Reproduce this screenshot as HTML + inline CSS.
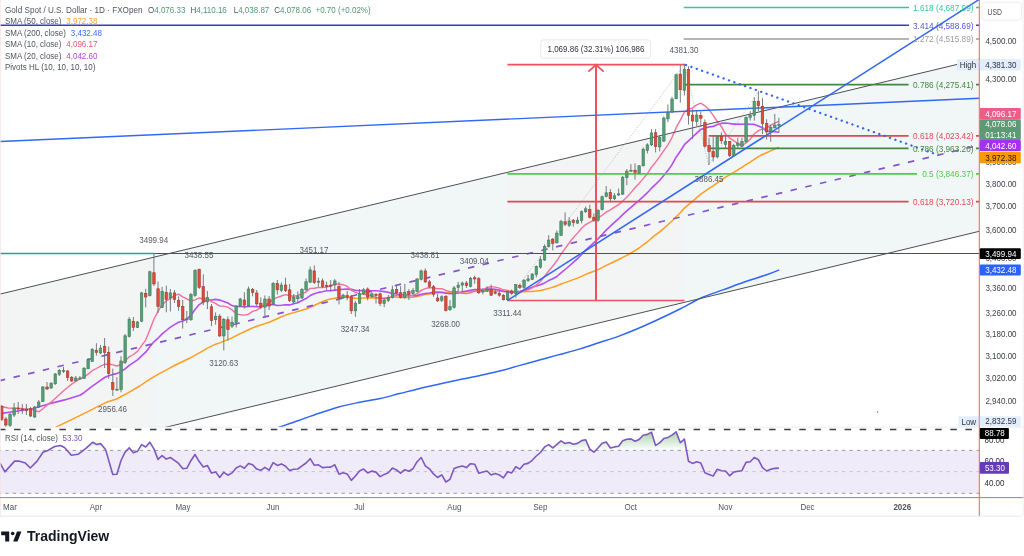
<!DOCTYPE html>
<html><head><meta charset="utf-8"><title>Gold Spot / U.S. Dollar chart</title>
<style>html,body{margin:0;padding:0;background:#fff;}body{width:1024px;height:556px;position:relative;overflow:hidden;}</style>
</head><body>
<svg width="1024" height="556" viewBox="0 0 1024 556" style="position:absolute;left:0;top:0;will-change:transform">
<defs><clipPath id="mp"><rect x="0" y="0" width="979.3" height="427"/></clipPath>
<clipPath id="rp"><rect x="0" y="427.5" width="979.3" height="69.6"/></clipPath>
<linearGradient id="gob" gradientUnits="userSpaceOnUse" x1="0" y1="418" x2="0" y2="450.4"><stop offset="0" stop-color="#43a047" stop-opacity="0.8"/><stop offset="1" stop-color="#43a047" stop-opacity="0"/></linearGradient>
<clipPath id="obc"><rect x="0" y="400" width="979.3" height="50.4"/></clipPath></defs>
<g clip-path="url(#mp)">
<polygon points="0.0,294.1 979.3,59.1 979.3,231.3 0.0,467.2" fill="#f1f6f7"/>
<polygon points="0.0,294.1 154.3,257.1 154.3,430.0 0.0,467.2" fill="#f3f5f5"/>
<polygon points="507.4,172.3 684.5,129.8 684.5,302.3 507.4,345.0" fill="#f3f4f4"/>
<polygon points="154.3,253.5 169.2,253.5 154.3,257.1" fill="#f1f6f7"/>
<path d="M275.0,429.0 C275.8,428.7 275.9,428.5 280.0,427.0 C284.1,425.5 293.0,422.5 299.5,420.2 C306.0,417.9 312.5,415.5 319.0,413.3 C325.5,411.1 332.1,408.8 338.6,407.0 C345.1,405.2 351.2,404.0 358.1,402.6 C365.0,401.2 373.1,400.1 380.0,398.6 C386.9,397.1 393.0,395.2 399.5,393.6 C406.0,392.0 412.5,390.2 419.0,388.7 C425.5,387.1 432.1,385.8 438.6,384.3 C445.1,382.8 451.2,381.4 458.1,379.9 C465.0,378.4 473.1,377.0 480.0,375.5 C486.9,374.0 493.0,372.6 499.5,371.0 C506.0,369.4 512.5,367.4 519.0,365.6 C525.5,363.8 532.1,362.1 538.6,360.3 C545.1,358.5 551.2,356.8 558.1,354.9 C565.0,353.0 573.1,351.0 580.0,348.9 C586.9,346.8 593.0,344.6 599.5,342.5 C606.0,340.4 612.5,338.5 619.0,336.1 C625.5,333.7 632.1,331.1 638.6,328.3 C645.1,325.5 651.2,322.7 658.1,319.5 C665.0,316.3 672.8,312.6 680.0,309.0 C687.2,305.4 694.3,301.0 701.5,297.8 C708.7,294.6 715.9,292.5 723.0,289.9 C730.1,287.3 737.2,284.5 744.4,282.0 C751.5,279.5 760.1,277.0 765.9,275.0 C771.7,273.0 777.0,270.8 779.2,269.9" fill="none" stroke="#2f66f5" stroke-width="1.5"/>
<polyline points="54.0,428.5 57.4,426.4 73.2,418.9 89.8,410.6 99.0,405.9 106.4,402.3 116.6,399.0 128.4,392.7 139.7,386.0 147.9,380.3 156.3,375.3 172.9,366.3 189.5,358.3 203.3,350.6 207.4,348.2 211.5,346.2 215.6,344.2 219.7,342.9 223.8,341.1 227.9,339.6 232.0,337.9 236.2,335.7 240.3,333.6 244.4,331.7 248.5,329.8 252.6,327.9 256.7,326.3 260.8,325.0 264.9,323.6 269.1,322.3 273.2,320.5 277.3,318.7 281.4,316.8 285.5,315.1 289.6,313.8 293.7,312.6 297.8,311.5 302.0,310.3 306.1,309.0 310.2,307.3 314.3,305.5 318.4,303.5 322.5,301.5 326.6,300.0 330.7,299.0 334.8,298.3 339.0,297.7 343.1,297.2 347.2,297.2 351.3,297.5 355.4,298.2 359.5,298.4 363.6,298.0 367.7,298.1 371.9,298.0 376.0,298.1 380.1,298.2 384.2,298.0 388.3,297.6 392.4,297.0 396.5,297.0 400.6,297.5 404.8,297.6 408.9,297.5 413.0,297.3 417.1,296.5 421.2,295.6 425.3,294.5 429.4,293.9 433.5,293.2 437.6,292.8 441.8,292.6 445.9,292.8 450.0,292.8 454.1,292.8 458.2,292.7 462.3,292.2 466.4,291.8 470.5,291.4 474.7,290.9 478.8,291.0 482.9,291.1 487.0,291.1 491.1,291.2 495.2,291.1 499.3,291.0 503.4,291.1 507.6,291.2 511.7,291.4 515.8,291.7 519.9,291.8 524.0,291.8 528.1,291.6 532.2,291.4 536.3,291.0 540.4,290.5 544.6,289.5 548.7,288.4 552.8,287.3 556.9,285.7 561.0,284.0 565.1,282.6 569.2,281.1 573.3,279.6 577.5,278.1 581.6,276.4 585.7,274.4 589.8,272.8 593.9,271.2 598.0,269.6 602.1,267.6 606.2,265.4 610.4,263.5 614.5,261.5 618.6,259.5 622.7,257.4 626.8,255.3 630.9,253.0 635.0,250.7 639.1,248.0 643.2,244.9 647.4,241.8 651.5,238.2 655.6,234.9 659.7,231.8 663.8,228.4 667.9,224.8 672.0,221.0 676.1,216.7 680.3,212.8 684.4,208.1 688.5,204.6 692.6,201.2 696.7,197.6 700.8,194.2 704.9,191.3 709.0,188.4 713.2,185.9 717.3,182.8 721.4,180.1 725.5,177.2 729.6,174.9 733.7,172.3 737.8,169.8 741.9,167.4 746.0,164.6 750.2,162.1 754.3,159.3 758.4,156.6 762.5,154.5 766.6,152.7 770.7,150.9 774.8,149.0 778.9,147.1" fill="none" stroke="#ff9d1f" stroke-width="1.5" stroke-linejoin="round"/>
<polyline points="0.0,413.6 16.2,411.2 32.4,408.8 48.5,403.9 64.7,399.9 79.9,395.2 84.0,392.7 88.1,389.4 92.2,386.2 96.4,383.4 100.5,380.3 104.6,377.5 108.7,375.7 112.8,374.4 116.9,373.6 121.0,371.5 125.1,368.9 129.2,365.4 133.4,362.6 137.5,359.9 141.6,355.9 145.7,352.2 149.8,346.7 153.9,341.8 158.0,338.2 162.1,333.9 166.3,330.5 170.4,327.1 174.5,324.6 178.6,322.3 182.7,320.9 186.8,319.2 190.9,315.4 195.0,309.5 199.2,304.6 203.3,301.8 207.4,299.9 211.5,300.0 215.6,299.4 219.7,300.1 223.8,301.4 227.9,303.0 232.0,305.6 236.2,306.7 240.3,306.3 244.4,307.0 248.5,306.5 252.6,306.5 256.7,306.7 260.8,306.7 264.9,305.7 269.1,305.0 273.2,304.5 277.3,305.5 281.4,305.3 285.5,304.8 289.6,304.9 293.7,303.8 297.8,302.8 302.0,300.5 306.1,298.6 310.2,295.6 314.3,293.7 318.4,292.4 322.5,291.8 326.6,290.8 330.7,290.7 334.8,290.1 339.0,289.8 343.1,289.2 347.2,289.1 351.3,289.4 355.4,290.4 359.5,290.6 363.6,290.8 367.7,291.1 371.9,290.8 376.0,290.7 380.1,291.0 384.2,291.6 388.3,292.3 392.4,293.4 396.5,293.9 400.6,294.7 404.8,295.0 408.9,295.4 413.0,295.7 417.1,295.6 421.2,294.2 425.3,293.5 429.4,293.0 433.5,292.2 437.6,292.0 441.8,292.2 445.9,293.2 450.0,293.7 454.1,293.4 458.2,292.9 462.3,291.8 466.4,291.1 470.5,290.2 474.7,289.6 478.8,289.6 482.9,289.3 487.0,289.1 491.1,289.1 495.2,289.3 499.3,290.1 503.4,291.5 507.6,292.0 511.7,292.4 515.8,291.9 519.9,291.2 524.0,290.4 528.1,288.8 532.2,287.2 536.3,286.1 540.4,284.8 544.6,282.9 548.7,280.6 552.8,278.8 556.9,276.5 561.0,272.9 565.1,269.5 569.2,266.0 573.3,262.4 577.5,258.7 581.6,254.5 585.7,250.0 589.8,246.3 593.9,242.7 598.0,239.0 602.1,234.5 606.2,230.1 610.4,226.2 614.5,222.3 618.6,218.7 622.7,214.6 626.8,210.8 630.9,207.3 635.0,203.8 639.1,200.4 643.2,196.7 647.4,192.7 651.5,188.2 655.6,184.4 659.7,180.3 663.8,175.5 667.9,170.6 672.0,164.6 676.1,157.2 680.3,151.2 684.4,144.7 688.5,140.8 692.6,137.0 696.7,133.1 700.8,129.4 704.9,127.9 709.0,127.0 713.2,126.4 717.3,124.6 721.4,123.4 725.5,123.0 729.6,123.5 733.7,124.1 737.8,124.0 741.9,124.2 746.0,124.1 750.2,124.3 754.3,124.4 758.4,126.0 762.5,127.8 766.6,131.0 770.7,131.6 774.8,131.8 778.9,132.3" fill="none" stroke="#b64cf4" stroke-width="1.6" stroke-linejoin="round"/>
<polyline points="0.0,406.3 8.1,408.0 16.2,408.3 32.4,409.5 38.8,411.9 42.9,408.7 47.0,405.1 51.1,402.0 55.2,398.5 59.3,394.7 63.5,390.8 67.6,387.5 71.7,384.1 75.8,381.2 79.9,378.9 84.0,377.0 88.1,374.1 92.2,370.7 96.4,368.5 100.5,366.2 104.6,364.4 108.7,364.0 112.8,364.9 116.9,366.0 121.0,364.3 125.1,361.0 129.2,356.8 133.4,354.5 137.5,351.4 141.6,345.7 145.7,340.1 149.8,329.8 153.9,319.3 158.0,311.4 162.1,304.6 166.3,301.0 170.4,298.4 174.5,295.6 178.6,294.1 182.7,296.8 186.8,298.9 190.9,301.2 195.0,299.8 199.2,297.9 203.3,299.0 207.4,298.8 211.5,301.6 215.6,303.3 219.7,306.1 223.8,306.1 227.9,307.1 232.0,309.9 236.2,313.6 240.3,314.8 244.4,315.1 248.5,314.2 252.6,311.4 256.7,310.1 260.8,307.3 264.9,305.2 269.1,302.9 273.2,299.1 277.3,297.4 281.4,296.0 285.5,294.6 289.6,295.7 293.7,296.2 297.8,295.5 302.0,293.7 306.1,292.0 310.2,288.4 314.3,288.3 318.4,287.4 322.5,287.6 326.6,287.1 330.7,285.6 334.8,284.0 339.0,284.1 343.1,284.7 347.2,286.3 351.3,290.3 355.4,292.4 359.5,293.7 363.6,294.0 367.7,295.1 371.9,295.9 376.0,297.4 380.1,298.0 384.2,298.5 388.3,298.5 392.4,296.4 396.5,295.3 400.6,295.7 404.8,296.0 408.9,295.7 413.0,295.4 417.1,293.7 421.2,290.4 425.3,288.6 429.4,287.5 433.5,288.0 437.6,288.8 441.8,288.7 445.9,290.5 450.0,291.7 454.1,291.4 458.2,292.0 462.3,293.3 466.4,293.6 470.5,292.8 474.7,291.3 478.8,290.5 482.9,289.8 487.0,287.7 491.1,286.6 495.2,287.1 499.3,288.1 503.4,289.8 507.6,290.4 511.7,291.9 515.8,292.5 519.9,292.0 524.0,290.9 528.1,289.9 532.2,287.8 536.3,285.1 540.4,281.5 544.6,276.2 548.7,271.0 552.8,266.0 556.9,260.8 561.0,254.2 565.1,248.6 569.2,242.8 573.3,237.7 577.5,233.1 581.6,228.3 585.7,224.6 589.8,222.3 593.9,220.0 598.0,217.8 602.1,215.3 606.2,212.1 610.4,209.9 614.5,207.2 618.6,204.6 622.7,201.1 626.8,197.3 630.9,192.6 635.0,187.8 639.1,183.4 643.2,178.6 647.4,173.7 651.5,167.1 655.6,162.2 659.7,156.6 663.8,150.7 667.9,144.8 672.0,137.6 676.1,127.7 680.3,120.1 684.4,112.1 688.5,109.2 692.6,108.0 696.7,104.9 700.8,103.1 704.9,105.8 709.0,109.6 713.2,115.3 717.3,121.5 721.4,126.7 725.5,134.1 729.6,138.1 733.7,140.6 737.8,143.5 741.9,145.8 746.0,142.9 750.2,139.3 754.3,133.7 758.4,130.6 762.5,128.9 766.6,128.0 770.7,125.2 774.8,123.2 778.9,121.3" fill="none" stroke="#f2709a" stroke-width="1.4" stroke-linejoin="round"/>
<line x1="0.0" y1="294.1" x2="979.3" y2="59.1" stroke="#4d4f55" stroke-width="1"/>
<line x1="0.0" y1="467.2" x2="979.3" y2="231.3" stroke="#4d4f55" stroke-width="1"/>
<line x1="0.0" y1="380.6" x2="979.3" y2="145.2" stroke="#8456c8" stroke-width="1.7" stroke-dasharray="6.5,8.58" stroke-dashoffset="1.2"/>
<line x1="0.0" y1="253.5" x2="154.3" y2="253.5" stroke="#1fa98c" stroke-width="1.5"/>
<line x1="154.3" y1="253.5" x2="979.3" y2="253.5" stroke="#4d4f55" stroke-width="1.1"/>
<line x1="0.0" y1="25.3" x2="909.0" y2="25.3" stroke="#3a3acc" stroke-width="1.5"/>
<line x1="976.0" y1="25.3" x2="979.3" y2="25.3" stroke="#3a3acc" stroke-width="1.5"/>
<line x1="683.7" y1="7.5" x2="909.0" y2="7.5" stroke="#33c99c" stroke-width="1.5"/>
<line x1="976.0" y1="7.5" x2="979.3" y2="7.5" stroke="#33c99c" stroke-width="1.5"/>
<line x1="683.7" y1="38.9" x2="909.0" y2="38.9" stroke="#9b9b9b" stroke-width="1.5"/>
<line x1="976.0" y1="38.9" x2="979.3" y2="38.9" stroke="#9b9b9b" stroke-width="1.5"/>
<line x1="684.2" y1="84.6" x2="908.6" y2="84.6" stroke="#43883f" stroke-width="1.7"/>
<line x1="976.0" y1="84.6" x2="979.3" y2="84.6" stroke="#43883f" stroke-width="1.7"/>
<line x1="708.6" y1="135.9" x2="908.6" y2="135.9" stroke="#dc4a52" stroke-width="1.7"/>
<line x1="976.0" y1="135.9" x2="979.3" y2="135.9" stroke="#dc4a52" stroke-width="1.7"/>
<line x1="708.6" y1="148.3" x2="908.6" y2="148.3" stroke="#43883f" stroke-width="1.7"/>
<line x1="976.0" y1="148.3" x2="979.3" y2="148.3" stroke="#43883f" stroke-width="1.7"/>
<line x1="507.4" y1="173.9" x2="917.0" y2="173.9" stroke="#4ccd4c" stroke-width="1.7"/>
<line x1="976.0" y1="173.9" x2="979.3" y2="173.9" stroke="#4ccd4c" stroke-width="1.7"/>
<line x1="507.4" y1="201.6" x2="908.6" y2="201.6" stroke="#dc4a52" stroke-width="1.7"/>
<line x1="976.0" y1="201.6" x2="979.3" y2="201.6" stroke="#dc4a52" stroke-width="1.7"/>
<line x1="507.4" y1="64.6" x2="684.5" y2="64.6" stroke="#f1505f" stroke-width="1.7"/>
<line x1="507.4" y1="300.5" x2="684.5" y2="300.5" stroke="#f1505f" stroke-width="1.6"/>
<line x1="596.0" y1="64.6" x2="596.0" y2="300.5" stroke="#f1505f" stroke-width="2"/>
<polyline points="588.4,71.6 596,64.8 603.6,71.6" fill="none" stroke="#f1505f" stroke-width="1.8"/>
<line x1="507.4" y1="300.5" x2="684.4" y2="64.6" stroke="#a9a9ad" stroke-width="0.8" stroke-dasharray="1,1.6"/>
<line x1="684.4" y1="64.6" x2="708.6" y2="165.0" stroke="#a9a9ad" stroke-width="0.8" stroke-dasharray="1,1.6"/>
<line x1="708.6" y1="165.0" x2="758.7" y2="91.0" stroke="#a9a9ad" stroke-width="0.8" stroke-dasharray="1,1.6"/>
<line x1="0.0" y1="141.6" x2="979.3" y2="98.3" stroke="#3168f5" stroke-width="1.45"/>
<line x1="507.4" y1="300.5" x2="979.3" y2="-0.6" stroke="#3168f5" stroke-width="1.55"/>
<line x1="686.0" y1="65.0" x2="938.0" y2="155.0" stroke="#2f66f5" stroke-width="2.3" stroke-dasharray="0.1,5.6" stroke-linecap="round"/>
<rect x="876.9" y="411.1" width="1.3" height="1.6" fill="#f0609a"/>
<line x1="1.8" y1="405.0" x2="1.8" y2="421.0" stroke="#6a6e75" stroke-width="0.9"/>
<rect x="0.5" y="406.3" width="2.5" height="13.0" fill="#dd4c3b" stroke="#a8392c" stroke-width="0.6"/>
<line x1="5.9" y1="417.0" x2="5.9" y2="428.0" stroke="#6a6e75" stroke-width="0.9"/>
<rect x="4.6" y="419.0" width="2.5" height="6.0" fill="#dd4c3b" stroke="#a8392c" stroke-width="0.6"/>
<line x1="10.0" y1="413.0" x2="10.0" y2="427.0" stroke="#6a6e75" stroke-width="0.9"/>
<rect x="8.8" y="414.4" width="2.5" height="11.0" fill="#559f77" stroke="#3f7d5b" stroke-width="0.6"/>
<line x1="14.1" y1="403.0" x2="14.1" y2="417.0" stroke="#6a6e75" stroke-width="0.9"/>
<rect x="12.9" y="408.0" width="2.5" height="7.0" fill="#559f77" stroke="#3f7d5b" stroke-width="0.6"/>
<line x1="18.2" y1="402.0" x2="18.2" y2="414.0" stroke="#6a6e75" stroke-width="0.9"/>
<rect x="17.0" y="408.0" width="2.5" height="1.0" fill="#dd4c3b" stroke="#a8392c" stroke-width="0.6"/>
<line x1="22.3" y1="404.0" x2="22.3" y2="414.0" stroke="#6a6e75" stroke-width="0.9"/>
<rect x="21.1" y="409.0" width="2.5" height="1.0" fill="#dd4c3b" stroke="#a8392c" stroke-width="0.6"/>
<line x1="26.4" y1="404.0" x2="26.4" y2="415.0" stroke="#6a6e75" stroke-width="0.9"/>
<rect x="25.2" y="409.5" width="2.5" height="1.0" fill="#dd4c3b" stroke="#a8392c" stroke-width="0.6"/>
<line x1="30.6" y1="407.0" x2="30.6" y2="417.0" stroke="#6a6e75" stroke-width="0.9"/>
<rect x="29.3" y="408.8" width="2.5" height="7.2" fill="#dd4c3b" stroke="#a8392c" stroke-width="0.6"/>
<line x1="34.7" y1="406.0" x2="34.7" y2="418.0" stroke="#6a6e75" stroke-width="0.9"/>
<rect x="33.4" y="407.0" width="2.5" height="10.0" fill="#559f77" stroke="#3f7d5b" stroke-width="0.6"/>
<line x1="38.8" y1="400.0" x2="38.8" y2="408.0" stroke="#6a6e75" stroke-width="0.9"/>
<rect x="37.5" y="402.0" width="2.5" height="5.0" fill="#559f77" stroke="#3f7d5b" stroke-width="0.6"/>
<line x1="42.9" y1="386.0" x2="42.9" y2="402.0" stroke="#6a6e75" stroke-width="0.9"/>
<rect x="41.6" y="387.0" width="2.5" height="14.5" fill="#559f77" stroke="#3f7d5b" stroke-width="0.6"/>
<line x1="47.0" y1="382.0" x2="47.0" y2="390.0" stroke="#6a6e75" stroke-width="0.9"/>
<rect x="45.8" y="387.0" width="2.5" height="2.0" fill="#dd4c3b" stroke="#a8392c" stroke-width="0.6"/>
<line x1="51.1" y1="382.0" x2="51.1" y2="389.0" stroke="#6a6e75" stroke-width="0.9"/>
<rect x="49.9" y="383.4" width="2.5" height="4.6" fill="#559f77" stroke="#3f7d5b" stroke-width="0.6"/>
<line x1="55.2" y1="373.0" x2="55.2" y2="385.0" stroke="#6a6e75" stroke-width="0.9"/>
<rect x="54.0" y="374.0" width="2.5" height="9.7" fill="#559f77" stroke="#3f7d5b" stroke-width="0.6"/>
<line x1="59.3" y1="369.0" x2="59.3" y2="376.0" stroke="#6a6e75" stroke-width="0.9"/>
<rect x="58.1" y="370.4" width="2.5" height="3.9" fill="#559f77" stroke="#3f7d5b" stroke-width="0.6"/>
<line x1="63.5" y1="367.0" x2="63.5" y2="373.0" stroke="#6a6e75" stroke-width="0.9"/>
<rect x="62.2" y="370.5" width="2.5" height="1.0" fill="#559f77" stroke="#3f7d5b" stroke-width="0.6"/>
<line x1="67.6" y1="370.0" x2="67.6" y2="381.0" stroke="#6a6e75" stroke-width="0.9"/>
<rect x="66.3" y="371.0" width="2.5" height="6.5" fill="#dd4c3b" stroke="#a8392c" stroke-width="0.6"/>
<line x1="71.7" y1="376.0" x2="71.7" y2="382.0" stroke="#6a6e75" stroke-width="0.9"/>
<rect x="70.4" y="377.5" width="2.5" height="3.5" fill="#dd4c3b" stroke="#a8392c" stroke-width="0.6"/>
<line x1="75.8" y1="376.0" x2="75.8" y2="382.0" stroke="#6a6e75" stroke-width="0.9"/>
<rect x="74.5" y="378.0" width="2.5" height="2.8" fill="#559f77" stroke="#3f7d5b" stroke-width="0.6"/>
<line x1="79.9" y1="376.0" x2="79.9" y2="380.0" stroke="#6a6e75" stroke-width="0.9"/>
<rect x="78.7" y="378.0" width="2.5" height="1.0" fill="#559f77" stroke="#3f7d5b" stroke-width="0.6"/>
<line x1="84.0" y1="367.0" x2="84.0" y2="379.0" stroke="#6a6e75" stroke-width="0.9"/>
<rect x="82.8" y="368.3" width="2.5" height="10.0" fill="#559f77" stroke="#3f7d5b" stroke-width="0.6"/>
<line x1="88.1" y1="358.0" x2="88.1" y2="369.0" stroke="#6a6e75" stroke-width="0.9"/>
<rect x="86.9" y="360.0" width="2.5" height="8.8" fill="#559f77" stroke="#3f7d5b" stroke-width="0.6"/>
<line x1="92.2" y1="348.0" x2="92.2" y2="362.0" stroke="#6a6e75" stroke-width="0.9"/>
<rect x="91.0" y="349.5" width="2.5" height="11.9" fill="#559f77" stroke="#3f7d5b" stroke-width="0.6"/>
<line x1="96.4" y1="343.2" x2="96.4" y2="355.6" stroke="#6a6e75" stroke-width="0.9"/>
<rect x="95.1" y="350.2" width="2.5" height="2.2" fill="#dd4c3b" stroke="#a8392c" stroke-width="0.6"/>
<line x1="100.5" y1="344.9" x2="100.5" y2="354.0" stroke="#6a6e75" stroke-width="0.9"/>
<rect x="99.2" y="348.1" width="2.5" height="4.9" fill="#559f77" stroke="#3f7d5b" stroke-width="0.6"/>
<line x1="104.6" y1="338.0" x2="104.6" y2="368.0" stroke="#6a6e75" stroke-width="0.9"/>
<rect x="103.3" y="346.3" width="2.5" height="6.1" fill="#dd4c3b" stroke="#a8392c" stroke-width="0.6"/>
<line x1="108.7" y1="346.5" x2="108.7" y2="378.8" stroke="#6a6e75" stroke-width="0.9"/>
<rect x="107.4" y="352.4" width="2.5" height="21.0" fill="#dd4c3b" stroke="#a8392c" stroke-width="0.6"/>
<line x1="112.8" y1="368.6" x2="112.8" y2="396.0" stroke="#6a6e75" stroke-width="0.9"/>
<rect x="111.5" y="382.6" width="2.5" height="7.0" fill="#dd4c3b" stroke="#a8392c" stroke-width="0.6"/>
<line x1="116.9" y1="377.2" x2="116.9" y2="390.7" stroke="#6a6e75" stroke-width="0.9"/>
<rect x="115.7" y="389.2" width="2.5" height="1.0" fill="#559f77" stroke="#3f7d5b" stroke-width="0.6"/>
<line x1="121.0" y1="356.2" x2="121.0" y2="392.3" stroke="#6a6e75" stroke-width="0.9"/>
<rect x="119.8" y="361.0" width="2.5" height="28.6" fill="#559f77" stroke="#3f7d5b" stroke-width="0.6"/>
<line x1="125.1" y1="334.0" x2="125.1" y2="364.0" stroke="#6a6e75" stroke-width="0.9"/>
<rect x="123.9" y="335.8" width="2.5" height="26.6" fill="#559f77" stroke="#3f7d5b" stroke-width="0.6"/>
<line x1="129.2" y1="317.0" x2="129.2" y2="337.5" stroke="#6a6e75" stroke-width="0.9"/>
<rect x="128.0" y="319.3" width="2.5" height="17.3" fill="#559f77" stroke="#3f7d5b" stroke-width="0.6"/>
<line x1="133.4" y1="317.0" x2="133.4" y2="331.0" stroke="#6a6e75" stroke-width="0.9"/>
<rect x="132.1" y="321.2" width="2.5" height="6.1" fill="#dd4c3b" stroke="#a8392c" stroke-width="0.6"/>
<line x1="137.5" y1="321.0" x2="137.5" y2="328.0" stroke="#6a6e75" stroke-width="0.9"/>
<rect x="136.2" y="322.0" width="2.5" height="5.3" fill="#559f77" stroke="#3f7d5b" stroke-width="0.6"/>
<line x1="141.6" y1="292.0" x2="141.6" y2="322.0" stroke="#6a6e75" stroke-width="0.9"/>
<rect x="140.3" y="292.9" width="2.5" height="28.3" fill="#559f77" stroke="#3f7d5b" stroke-width="0.6"/>
<line x1="145.7" y1="288.8" x2="145.7" y2="307.4" stroke="#6a6e75" stroke-width="0.9"/>
<rect x="144.4" y="293.4" width="2.5" height="3.6" fill="#dd4c3b" stroke="#a8392c" stroke-width="0.6"/>
<line x1="149.8" y1="270.7" x2="149.8" y2="296.5" stroke="#6a6e75" stroke-width="0.9"/>
<rect x="148.6" y="271.8" width="2.5" height="23.8" fill="#559f77" stroke="#3f7d5b" stroke-width="0.6"/>
<line x1="153.9" y1="253.5" x2="153.9" y2="286.0" stroke="#6a6e75" stroke-width="0.9"/>
<rect x="152.7" y="272.7" width="2.5" height="11.3" fill="#dd4c3b" stroke="#a8392c" stroke-width="0.6"/>
<line x1="158.0" y1="281.6" x2="158.0" y2="313.0" stroke="#6a6e75" stroke-width="0.9"/>
<rect x="156.8" y="288.8" width="2.5" height="17.8" fill="#dd4c3b" stroke="#a8392c" stroke-width="0.6"/>
<line x1="162.1" y1="286.9" x2="162.1" y2="308.0" stroke="#6a6e75" stroke-width="0.9"/>
<rect x="160.9" y="291.3" width="2.5" height="16.1" fill="#559f77" stroke="#3f7d5b" stroke-width="0.6"/>
<line x1="166.3" y1="285.6" x2="166.3" y2="312.3" stroke="#6a6e75" stroke-width="0.9"/>
<rect x="165.0" y="292.4" width="2.5" height="7.0" fill="#dd4c3b" stroke="#a8392c" stroke-width="0.6"/>
<line x1="170.4" y1="289.0" x2="170.4" y2="311.5" stroke="#6a6e75" stroke-width="0.9"/>
<rect x="169.1" y="292.9" width="2.5" height="5.3" fill="#559f77" stroke="#3f7d5b" stroke-width="0.6"/>
<line x1="174.5" y1="290.0" x2="174.5" y2="303.0" stroke="#6a6e75" stroke-width="0.9"/>
<rect x="173.2" y="292.9" width="2.5" height="6.5" fill="#dd4c3b" stroke="#a8392c" stroke-width="0.6"/>
<line x1="178.6" y1="296.3" x2="178.6" y2="310.8" stroke="#6a6e75" stroke-width="0.9"/>
<rect x="177.3" y="300.6" width="2.5" height="5.9" fill="#dd4c3b" stroke="#a8392c" stroke-width="0.6"/>
<line x1="182.7" y1="300.0" x2="182.7" y2="328.6" stroke="#6a6e75" stroke-width="0.9"/>
<rect x="181.5" y="306.5" width="2.5" height="13.2" fill="#dd4c3b" stroke="#a8392c" stroke-width="0.6"/>
<line x1="186.8" y1="311.0" x2="186.8" y2="323.2" stroke="#6a6e75" stroke-width="0.9"/>
<rect x="185.6" y="318.8" width="2.5" height="1.0" fill="#559f77" stroke="#3f7d5b" stroke-width="0.6"/>
<line x1="190.9" y1="293.0" x2="190.9" y2="321.0" stroke="#6a6e75" stroke-width="0.9"/>
<rect x="189.7" y="294.6" width="2.5" height="25.1" fill="#559f77" stroke="#3f7d5b" stroke-width="0.6"/>
<line x1="195.0" y1="269.2" x2="195.0" y2="297.0" stroke="#6a6e75" stroke-width="0.9"/>
<rect x="193.8" y="270.4" width="2.5" height="25.1" fill="#559f77" stroke="#3f7d5b" stroke-width="0.6"/>
<line x1="199.2" y1="268.8" x2="199.2" y2="289.0" stroke="#6a6e75" stroke-width="0.9"/>
<rect x="197.9" y="269.2" width="2.5" height="18.2" fill="#dd4c3b" stroke="#a8392c" stroke-width="0.6"/>
<line x1="203.3" y1="274.4" x2="203.3" y2="305.2" stroke="#6a6e75" stroke-width="0.9"/>
<rect x="202.0" y="286.6" width="2.5" height="15.6" fill="#dd4c3b" stroke="#a8392c" stroke-width="0.6"/>
<line x1="207.4" y1="291.0" x2="207.4" y2="309.2" stroke="#6a6e75" stroke-width="0.9"/>
<rect x="206.1" y="297.4" width="2.5" height="4.5" fill="#559f77" stroke="#3f7d5b" stroke-width="0.6"/>
<line x1="211.5" y1="304.0" x2="211.5" y2="326.2" stroke="#6a6e75" stroke-width="0.9"/>
<rect x="210.2" y="306.8" width="2.5" height="13.7" fill="#dd4c3b" stroke="#a8392c" stroke-width="0.6"/>
<line x1="215.6" y1="312.4" x2="215.6" y2="324.6" stroke="#6a6e75" stroke-width="0.9"/>
<rect x="214.3" y="316.5" width="2.5" height="3.2" fill="#559f77" stroke="#3f7d5b" stroke-width="0.6"/>
<line x1="219.7" y1="314.0" x2="219.7" y2="337.0" stroke="#6a6e75" stroke-width="0.9"/>
<rect x="218.5" y="316.2" width="2.5" height="19.7" fill="#dd4c3b" stroke="#a8392c" stroke-width="0.6"/>
<line x1="223.8" y1="318.0" x2="223.8" y2="350.4" stroke="#6a6e75" stroke-width="0.9"/>
<rect x="222.6" y="319.4" width="2.5" height="16.5" fill="#559f77" stroke="#3f7d5b" stroke-width="0.6"/>
<line x1="227.9" y1="316.5" x2="227.9" y2="340.8" stroke="#6a6e75" stroke-width="0.9"/>
<rect x="226.7" y="319.7" width="2.5" height="9.7" fill="#dd4c3b" stroke="#a8392c" stroke-width="0.6"/>
<line x1="232.0" y1="316.5" x2="232.0" y2="328.0" stroke="#6a6e75" stroke-width="0.9"/>
<rect x="230.8" y="322.2" width="2.5" height="4.0" fill="#559f77" stroke="#3f7d5b" stroke-width="0.6"/>
<line x1="236.2" y1="305.0" x2="236.2" y2="327.5" stroke="#6a6e75" stroke-width="0.9"/>
<rect x="234.9" y="306.0" width="2.5" height="16.6" fill="#559f77" stroke="#3f7d5b" stroke-width="0.6"/>
<line x1="240.3" y1="297.9" x2="240.3" y2="307.0" stroke="#6a6e75" stroke-width="0.9"/>
<rect x="239.0" y="299.0" width="2.5" height="7.0" fill="#559f77" stroke="#3f7d5b" stroke-width="0.6"/>
<line x1="244.4" y1="292.2" x2="244.4" y2="308.4" stroke="#6a6e75" stroke-width="0.9"/>
<rect x="243.1" y="300.0" width="2.5" height="5.2" fill="#dd4c3b" stroke="#a8392c" stroke-width="0.6"/>
<line x1="248.5" y1="286.6" x2="248.5" y2="307.0" stroke="#6a6e75" stroke-width="0.9"/>
<rect x="247.2" y="289.0" width="2.5" height="17.0" fill="#559f77" stroke="#3f7d5b" stroke-width="0.6"/>
<line x1="252.6" y1="288.0" x2="252.6" y2="296.3" stroke="#6a6e75" stroke-width="0.9"/>
<rect x="251.4" y="289.3" width="2.5" height="3.2" fill="#dd4c3b" stroke="#a8392c" stroke-width="0.6"/>
<line x1="256.7" y1="290.0" x2="256.7" y2="306.0" stroke="#6a6e75" stroke-width="0.9"/>
<rect x="255.5" y="293.0" width="2.5" height="10.9" fill="#dd4c3b" stroke="#a8392c" stroke-width="0.6"/>
<line x1="260.8" y1="297.4" x2="260.8" y2="309.0" stroke="#6a6e75" stroke-width="0.9"/>
<rect x="259.6" y="303.2" width="2.5" height="3.9" fill="#dd4c3b" stroke="#a8392c" stroke-width="0.6"/>
<line x1="264.9" y1="295.5" x2="264.9" y2="316.5" stroke="#6a6e75" stroke-width="0.9"/>
<rect x="263.7" y="299.0" width="2.5" height="8.1" fill="#559f77" stroke="#3f7d5b" stroke-width="0.6"/>
<line x1="269.1" y1="296.0" x2="269.1" y2="310.0" stroke="#6a6e75" stroke-width="0.9"/>
<rect x="267.8" y="299.0" width="2.5" height="7.0" fill="#dd4c3b" stroke="#a8392c" stroke-width="0.6"/>
<line x1="273.2" y1="282.0" x2="273.2" y2="305.0" stroke="#6a6e75" stroke-width="0.9"/>
<rect x="271.9" y="283.3" width="2.5" height="20.6" fill="#559f77" stroke="#3f7d5b" stroke-width="0.6"/>
<line x1="277.3" y1="280.0" x2="277.3" y2="294.6" stroke="#6a6e75" stroke-width="0.9"/>
<rect x="276.0" y="283.3" width="2.5" height="6.5" fill="#dd4c3b" stroke="#a8392c" stroke-width="0.6"/>
<line x1="281.4" y1="282.5" x2="281.4" y2="292.0" stroke="#6a6e75" stroke-width="0.9"/>
<rect x="280.1" y="285.0" width="2.5" height="5.3" fill="#559f77" stroke="#3f7d5b" stroke-width="0.6"/>
<line x1="285.5" y1="277.7" x2="285.5" y2="292.0" stroke="#6a6e75" stroke-width="0.9"/>
<rect x="284.3" y="285.0" width="2.5" height="5.6" fill="#dd4c3b" stroke="#a8392c" stroke-width="0.6"/>
<line x1="289.6" y1="284.0" x2="289.6" y2="302.0" stroke="#6a6e75" stroke-width="0.9"/>
<rect x="288.4" y="289.8" width="2.5" height="10.8" fill="#dd4c3b" stroke="#a8392c" stroke-width="0.6"/>
<line x1="293.7" y1="294.0" x2="293.7" y2="303.9" stroke="#6a6e75" stroke-width="0.9"/>
<rect x="292.5" y="297.4" width="2.5" height="4.5" fill="#559f77" stroke="#3f7d5b" stroke-width="0.6"/>
<line x1="297.8" y1="291.4" x2="297.8" y2="303.2" stroke="#6a6e75" stroke-width="0.9"/>
<rect x="296.6" y="296.7" width="2.5" height="2.0" fill="#559f77" stroke="#3f7d5b" stroke-width="0.6"/>
<line x1="302.0" y1="288.2" x2="302.0" y2="299.0" stroke="#6a6e75" stroke-width="0.9"/>
<rect x="300.7" y="289.3" width="2.5" height="8.6" fill="#559f77" stroke="#3f7d5b" stroke-width="0.6"/>
<line x1="306.1" y1="278.5" x2="306.1" y2="291.0" stroke="#6a6e75" stroke-width="0.9"/>
<rect x="304.8" y="281.7" width="2.5" height="8.1" fill="#559f77" stroke="#3f7d5b" stroke-width="0.6"/>
<line x1="310.2" y1="266.7" x2="310.2" y2="283.0" stroke="#6a6e75" stroke-width="0.9"/>
<rect x="308.9" y="269.9" width="2.5" height="12.3" fill="#559f77" stroke="#3f7d5b" stroke-width="0.6"/>
<line x1="314.3" y1="265.4" x2="314.3" y2="284.0" stroke="#6a6e75" stroke-width="0.9"/>
<rect x="313.0" y="270.9" width="2.5" height="11.6" fill="#dd4c3b" stroke="#a8392c" stroke-width="0.6"/>
<line x1="318.4" y1="277.7" x2="318.4" y2="286.6" stroke="#6a6e75" stroke-width="0.9"/>
<rect x="317.2" y="281.2" width="2.5" height="1.0" fill="#559f77" stroke="#3f7d5b" stroke-width="0.6"/>
<line x1="322.5" y1="278.5" x2="322.5" y2="288.0" stroke="#6a6e75" stroke-width="0.9"/>
<rect x="321.3" y="280.9" width="2.5" height="5.7" fill="#dd4c3b" stroke="#a8392c" stroke-width="0.6"/>
<line x1="326.6" y1="281.7" x2="326.6" y2="289.8" stroke="#6a6e75" stroke-width="0.9"/>
<rect x="325.4" y="285.5" width="2.5" height="1.0" fill="#dd4c3b" stroke="#a8392c" stroke-width="0.6"/>
<line x1="330.7" y1="280.0" x2="330.7" y2="291.4" stroke="#6a6e75" stroke-width="0.9"/>
<rect x="329.5" y="285.2" width="2.5" height="1.0" fill="#dd4c3b" stroke="#a8392c" stroke-width="0.6"/>
<line x1="334.8" y1="279.0" x2="334.8" y2="290.6" stroke="#6a6e75" stroke-width="0.9"/>
<rect x="333.6" y="280.9" width="2.5" height="4.1" fill="#559f77" stroke="#3f7d5b" stroke-width="0.6"/>
<line x1="339.0" y1="282.0" x2="339.0" y2="304.4" stroke="#6a6e75" stroke-width="0.9"/>
<rect x="337.7" y="286.6" width="2.5" height="11.3" fill="#dd4c3b" stroke="#a8392c" stroke-width="0.6"/>
<line x1="343.1" y1="293.8" x2="343.1" y2="299.0" stroke="#6a6e75" stroke-width="0.9"/>
<rect x="341.8" y="295.1" width="2.5" height="2.8" fill="#559f77" stroke="#3f7d5b" stroke-width="0.6"/>
<line x1="347.2" y1="291.0" x2="347.2" y2="300.3" stroke="#6a6e75" stroke-width="0.9"/>
<rect x="345.9" y="295.5" width="2.5" height="1.9" fill="#dd4c3b" stroke="#a8392c" stroke-width="0.6"/>
<line x1="351.3" y1="295.0" x2="351.3" y2="314.0" stroke="#6a6e75" stroke-width="0.9"/>
<rect x="350.0" y="296.7" width="2.5" height="14.1" fill="#dd4c3b" stroke="#a8392c" stroke-width="0.6"/>
<line x1="355.4" y1="301.0" x2="355.4" y2="316.8" stroke="#6a6e75" stroke-width="0.9"/>
<rect x="354.2" y="303.2" width="2.5" height="7.6" fill="#559f77" stroke="#3f7d5b" stroke-width="0.6"/>
<line x1="359.5" y1="289.0" x2="359.5" y2="304.0" stroke="#6a6e75" stroke-width="0.9"/>
<rect x="358.3" y="293.8" width="2.5" height="9.4" fill="#559f77" stroke="#3f7d5b" stroke-width="0.6"/>
<line x1="363.6" y1="288.2" x2="363.6" y2="295.0" stroke="#6a6e75" stroke-width="0.9"/>
<rect x="362.4" y="289.8" width="2.5" height="4.0" fill="#559f77" stroke="#3f7d5b" stroke-width="0.6"/>
<line x1="367.7" y1="287.4" x2="367.7" y2="300.3" stroke="#6a6e75" stroke-width="0.9"/>
<rect x="366.5" y="289.0" width="2.5" height="8.1" fill="#dd4c3b" stroke="#a8392c" stroke-width="0.6"/>
<line x1="371.9" y1="292.2" x2="371.9" y2="298.0" stroke="#6a6e75" stroke-width="0.9"/>
<rect x="370.6" y="293.8" width="2.5" height="2.5" fill="#559f77" stroke="#3f7d5b" stroke-width="0.6"/>
<line x1="376.0" y1="293.0" x2="376.0" y2="303.5" stroke="#6a6e75" stroke-width="0.9"/>
<rect x="374.7" y="294.6" width="2.5" height="1.0" fill="#dd4c3b" stroke="#a8392c" stroke-width="0.6"/>
<line x1="380.1" y1="292.5" x2="380.1" y2="306.0" stroke="#6a6e75" stroke-width="0.9"/>
<rect x="378.8" y="293.8" width="2.5" height="9.7" fill="#dd4c3b" stroke="#a8392c" stroke-width="0.6"/>
<line x1="384.2" y1="298.0" x2="384.2" y2="307.1" stroke="#6a6e75" stroke-width="0.9"/>
<rect x="382.9" y="300.0" width="2.5" height="3.5" fill="#559f77" stroke="#3f7d5b" stroke-width="0.6"/>
<line x1="388.3" y1="295.0" x2="388.3" y2="302.0" stroke="#6a6e75" stroke-width="0.9"/>
<rect x="387.1" y="297.4" width="2.5" height="2.9" fill="#559f77" stroke="#3f7d5b" stroke-width="0.6"/>
<line x1="392.4" y1="285.7" x2="392.4" y2="298.5" stroke="#6a6e75" stroke-width="0.9"/>
<rect x="391.2" y="289.8" width="2.5" height="7.6" fill="#559f77" stroke="#3f7d5b" stroke-width="0.6"/>
<line x1="396.5" y1="284.6" x2="396.5" y2="294.0" stroke="#6a6e75" stroke-width="0.9"/>
<rect x="395.3" y="289.5" width="2.5" height="3.2" fill="#dd4c3b" stroke="#a8392c" stroke-width="0.6"/>
<line x1="400.6" y1="286.3" x2="400.6" y2="298.4" stroke="#6a6e75" stroke-width="0.9"/>
<rect x="399.4" y="292.7" width="2.5" height="4.9" fill="#dd4c3b" stroke="#a8392c" stroke-width="0.6"/>
<line x1="404.8" y1="283.8" x2="404.8" y2="298.5" stroke="#6a6e75" stroke-width="0.9"/>
<rect x="403.5" y="292.2" width="2.5" height="5.4" fill="#559f77" stroke="#3f7d5b" stroke-width="0.6"/>
<line x1="408.9" y1="289.0" x2="408.9" y2="300.0" stroke="#6a6e75" stroke-width="0.9"/>
<rect x="407.6" y="291.6" width="2.5" height="2.8" fill="#dd4c3b" stroke="#a8392c" stroke-width="0.6"/>
<line x1="413.0" y1="287.9" x2="413.0" y2="295.0" stroke="#6a6e75" stroke-width="0.9"/>
<rect x="411.7" y="290.6" width="2.5" height="2.9" fill="#559f77" stroke="#3f7d5b" stroke-width="0.6"/>
<line x1="417.1" y1="278.0" x2="417.1" y2="292.5" stroke="#6a6e75" stroke-width="0.9"/>
<rect x="415.8" y="279.0" width="2.5" height="12.6" fill="#559f77" stroke="#3f7d5b" stroke-width="0.6"/>
<line x1="421.2" y1="269.6" x2="421.2" y2="280.5" stroke="#6a6e75" stroke-width="0.9"/>
<rect x="419.9" y="270.9" width="2.5" height="8.4" fill="#559f77" stroke="#3f7d5b" stroke-width="0.6"/>
<line x1="425.3" y1="268.4" x2="425.3" y2="283.0" stroke="#6a6e75" stroke-width="0.9"/>
<rect x="424.1" y="270.9" width="2.5" height="11.0" fill="#dd4c3b" stroke="#a8392c" stroke-width="0.6"/>
<line x1="429.4" y1="280.0" x2="429.4" y2="288.4" stroke="#6a6e75" stroke-width="0.9"/>
<rect x="428.2" y="281.9" width="2.5" height="4.4" fill="#dd4c3b" stroke="#a8392c" stroke-width="0.6"/>
<line x1="433.5" y1="285.0" x2="433.5" y2="296.8" stroke="#6a6e75" stroke-width="0.9"/>
<rect x="432.3" y="286.7" width="2.5" height="7.7" fill="#dd4c3b" stroke="#a8392c" stroke-width="0.6"/>
<line x1="437.6" y1="293.5" x2="437.6" y2="302.0" stroke="#6a6e75" stroke-width="0.9"/>
<rect x="436.4" y="298.0" width="2.5" height="2.8" fill="#dd4c3b" stroke="#a8392c" stroke-width="0.6"/>
<line x1="441.8" y1="295.2" x2="441.8" y2="302.0" stroke="#6a6e75" stroke-width="0.9"/>
<rect x="440.5" y="296.8" width="2.5" height="3.5" fill="#559f77" stroke="#3f7d5b" stroke-width="0.6"/>
<line x1="445.9" y1="295.0" x2="445.9" y2="311.5" stroke="#6a6e75" stroke-width="0.9"/>
<rect x="444.6" y="296.5" width="2.5" height="14.0" fill="#dd4c3b" stroke="#a8392c" stroke-width="0.6"/>
<line x1="450.0" y1="300.0" x2="450.0" y2="311.0" stroke="#6a6e75" stroke-width="0.9"/>
<rect x="448.7" y="306.5" width="2.5" height="3.2" fill="#559f77" stroke="#3f7d5b" stroke-width="0.6"/>
<line x1="454.1" y1="286.0" x2="454.1" y2="308.5" stroke="#6a6e75" stroke-width="0.9"/>
<rect x="452.8" y="287.9" width="2.5" height="19.4" fill="#559f77" stroke="#3f7d5b" stroke-width="0.6"/>
<line x1="458.2" y1="281.9" x2="458.2" y2="292.0" stroke="#6a6e75" stroke-width="0.9"/>
<rect x="457.0" y="285.1" width="2.5" height="2.3" fill="#559f77" stroke="#3f7d5b" stroke-width="0.6"/>
<line x1="462.3" y1="281.4" x2="462.3" y2="291.1" stroke="#6a6e75" stroke-width="0.9"/>
<rect x="461.1" y="283.0" width="2.5" height="2.1" fill="#559f77" stroke="#3f7d5b" stroke-width="0.6"/>
<line x1="466.4" y1="281.0" x2="466.4" y2="288.0" stroke="#6a6e75" stroke-width="0.9"/>
<rect x="465.2" y="283.0" width="2.5" height="2.5" fill="#dd4c3b" stroke="#a8392c" stroke-width="0.6"/>
<line x1="470.5" y1="277.0" x2="470.5" y2="287.5" stroke="#6a6e75" stroke-width="0.9"/>
<rect x="469.3" y="278.2" width="2.5" height="8.1" fill="#559f77" stroke="#3f7d5b" stroke-width="0.6"/>
<line x1="474.7" y1="275.7" x2="474.7" y2="283.8" stroke="#6a6e75" stroke-width="0.9"/>
<rect x="473.4" y="277.7" width="2.5" height="1.3" fill="#dd4c3b" stroke="#a8392c" stroke-width="0.6"/>
<line x1="478.8" y1="277.0" x2="478.8" y2="294.0" stroke="#6a6e75" stroke-width="0.9"/>
<rect x="477.5" y="278.7" width="2.5" height="14.0" fill="#dd4c3b" stroke="#a8392c" stroke-width="0.6"/>
<line x1="482.9" y1="289.0" x2="482.9" y2="294.4" stroke="#6a6e75" stroke-width="0.9"/>
<rect x="481.6" y="290.6" width="2.5" height="1.4" fill="#559f77" stroke="#3f7d5b" stroke-width="0.6"/>
<line x1="487.0" y1="286.3" x2="487.0" y2="292.0" stroke="#6a6e75" stroke-width="0.9"/>
<rect x="485.7" y="289.0" width="2.5" height="2.1" fill="#559f77" stroke="#3f7d5b" stroke-width="0.6"/>
<line x1="491.1" y1="284.6" x2="491.1" y2="296.0" stroke="#6a6e75" stroke-width="0.9"/>
<rect x="489.9" y="289.5" width="2.5" height="5.7" fill="#dd4c3b" stroke="#a8392c" stroke-width="0.6"/>
<line x1="495.2" y1="289.5" x2="495.2" y2="294.4" stroke="#6a6e75" stroke-width="0.9"/>
<rect x="494.0" y="292.0" width="2.5" height="1.2" fill="#dd4c3b" stroke="#a8392c" stroke-width="0.6"/>
<line x1="499.3" y1="290.3" x2="499.3" y2="296.8" stroke="#6a6e75" stroke-width="0.9"/>
<rect x="498.1" y="293.2" width="2.5" height="2.0" fill="#dd4c3b" stroke="#a8392c" stroke-width="0.6"/>
<line x1="503.4" y1="294.0" x2="503.4" y2="300.5" stroke="#6a6e75" stroke-width="0.9"/>
<rect x="502.2" y="295.5" width="2.5" height="4.2" fill="#dd4c3b" stroke="#a8392c" stroke-width="0.6"/>
<line x1="507.6" y1="291.0" x2="507.6" y2="300.3" stroke="#6a6e75" stroke-width="0.9"/>
<rect x="506.3" y="291.6" width="2.5" height="8.1" fill="#559f77" stroke="#3f7d5b" stroke-width="0.6"/>
<line x1="511.7" y1="289.5" x2="511.7" y2="294.8" stroke="#6a6e75" stroke-width="0.9"/>
<rect x="510.4" y="291.1" width="2.5" height="2.1" fill="#dd4c3b" stroke="#a8392c" stroke-width="0.6"/>
<line x1="515.8" y1="284.0" x2="515.8" y2="297.6" stroke="#6a6e75" stroke-width="0.9"/>
<rect x="514.5" y="284.6" width="2.5" height="8.9" fill="#559f77" stroke="#3f7d5b" stroke-width="0.6"/>
<line x1="519.9" y1="283.8" x2="519.9" y2="289.0" stroke="#6a6e75" stroke-width="0.9"/>
<rect x="518.6" y="285.5" width="2.5" height="1.9" fill="#dd4c3b" stroke="#a8392c" stroke-width="0.6"/>
<line x1="524.0" y1="279.0" x2="524.0" y2="290.3" stroke="#6a6e75" stroke-width="0.9"/>
<rect x="522.8" y="280.3" width="2.5" height="7.1" fill="#559f77" stroke="#3f7d5b" stroke-width="0.6"/>
<line x1="528.1" y1="275.0" x2="528.1" y2="282.0" stroke="#6a6e75" stroke-width="0.9"/>
<rect x="526.9" y="278.9" width="2.5" height="1.7" fill="#559f77" stroke="#3f7d5b" stroke-width="0.6"/>
<line x1="532.2" y1="273.0" x2="532.2" y2="280.0" stroke="#6a6e75" stroke-width="0.9"/>
<rect x="531.0" y="274.1" width="2.5" height="5.4" fill="#559f77" stroke="#3f7d5b" stroke-width="0.6"/>
<line x1="536.3" y1="265.5" x2="536.3" y2="277.3" stroke="#6a6e75" stroke-width="0.9"/>
<rect x="535.1" y="266.5" width="2.5" height="8.1" fill="#559f77" stroke="#3f7d5b" stroke-width="0.6"/>
<line x1="540.4" y1="256.3" x2="540.4" y2="268.7" stroke="#6a6e75" stroke-width="0.9"/>
<rect x="539.2" y="259.7" width="2.5" height="7.4" fill="#559f77" stroke="#3f7d5b" stroke-width="0.6"/>
<line x1="544.6" y1="244.4" x2="544.6" y2="261.0" stroke="#6a6e75" stroke-width="0.9"/>
<rect x="543.3" y="246.4" width="2.5" height="13.6" fill="#559f77" stroke="#3f7d5b" stroke-width="0.6"/>
<line x1="548.7" y1="235.2" x2="548.7" y2="247.5" stroke="#6a6e75" stroke-width="0.9"/>
<rect x="547.4" y="240.1" width="2.5" height="6.5" fill="#559f77" stroke="#3f7d5b" stroke-width="0.6"/>
<line x1="552.8" y1="238.0" x2="552.8" y2="250.4" stroke="#6a6e75" stroke-width="0.9"/>
<rect x="551.5" y="239.2" width="2.5" height="4.1" fill="#dd4c3b" stroke="#a8392c" stroke-width="0.6"/>
<line x1="556.9" y1="230.4" x2="556.9" y2="243.5" stroke="#6a6e75" stroke-width="0.9"/>
<rect x="555.6" y="233.1" width="2.5" height="9.7" fill="#559f77" stroke="#3f7d5b" stroke-width="0.6"/>
<line x1="561.0" y1="219.8" x2="561.0" y2="236.0" stroke="#6a6e75" stroke-width="0.9"/>
<rect x="559.8" y="221.5" width="2.5" height="14.0" fill="#559f77" stroke="#3f7d5b" stroke-width="0.6"/>
<line x1="565.1" y1="212.4" x2="565.1" y2="226.0" stroke="#6a6e75" stroke-width="0.9"/>
<rect x="563.9" y="221.8" width="2.5" height="2.4" fill="#dd4c3b" stroke="#a8392c" stroke-width="0.6"/>
<line x1="569.2" y1="217.2" x2="569.2" y2="227.0" stroke="#6a6e75" stroke-width="0.9"/>
<rect x="568.0" y="221.0" width="2.5" height="4.3" fill="#559f77" stroke="#3f7d5b" stroke-width="0.6"/>
<line x1="573.3" y1="219.0" x2="573.3" y2="226.6" stroke="#6a6e75" stroke-width="0.9"/>
<rect x="572.1" y="220.2" width="2.5" height="2.4" fill="#dd4c3b" stroke="#a8392c" stroke-width="0.6"/>
<line x1="577.5" y1="216.9" x2="577.5" y2="224.0" stroke="#6a6e75" stroke-width="0.9"/>
<rect x="576.2" y="220.2" width="2.5" height="2.9" fill="#559f77" stroke="#3f7d5b" stroke-width="0.6"/>
<line x1="581.6" y1="210.5" x2="581.6" y2="223.4" stroke="#6a6e75" stroke-width="0.9"/>
<rect x="580.3" y="211.7" width="2.5" height="8.8" fill="#559f77" stroke="#3f7d5b" stroke-width="0.6"/>
<line x1="585.7" y1="206.4" x2="585.7" y2="213.0" stroke="#6a6e75" stroke-width="0.9"/>
<rect x="584.4" y="208.8" width="2.5" height="2.9" fill="#559f77" stroke="#3f7d5b" stroke-width="0.6"/>
<line x1="589.8" y1="204.8" x2="589.8" y2="218.5" stroke="#6a6e75" stroke-width="0.9"/>
<rect x="588.5" y="209.6" width="2.5" height="7.6" fill="#dd4c3b" stroke="#a8392c" stroke-width="0.6"/>
<line x1="593.9" y1="213.4" x2="593.9" y2="222.0" stroke="#6a6e75" stroke-width="0.9"/>
<rect x="592.7" y="217.2" width="2.5" height="3.0" fill="#dd4c3b" stroke="#a8392c" stroke-width="0.6"/>
<line x1="598.0" y1="209.0" x2="598.0" y2="222.1" stroke="#6a6e75" stroke-width="0.9"/>
<rect x="596.8" y="210.5" width="2.5" height="9.7" fill="#559f77" stroke="#3f7d5b" stroke-width="0.6"/>
<line x1="602.1" y1="195.5" x2="602.1" y2="210.5" stroke="#6a6e75" stroke-width="0.9"/>
<rect x="600.9" y="196.7" width="2.5" height="12.9" fill="#559f77" stroke="#3f7d5b" stroke-width="0.6"/>
<line x1="606.2" y1="186.0" x2="606.2" y2="197.5" stroke="#6a6e75" stroke-width="0.9"/>
<rect x="605.0" y="192.8" width="2.5" height="3.8" fill="#559f77" stroke="#3f7d5b" stroke-width="0.6"/>
<line x1="610.4" y1="189.1" x2="610.4" y2="201.6" stroke="#6a6e75" stroke-width="0.9"/>
<rect x="609.1" y="192.5" width="2.5" height="6.2" fill="#dd4c3b" stroke="#a8392c" stroke-width="0.6"/>
<line x1="614.5" y1="193.0" x2="614.5" y2="200.0" stroke="#6a6e75" stroke-width="0.9"/>
<rect x="613.2" y="195.8" width="2.5" height="2.9" fill="#559f77" stroke="#3f7d5b" stroke-width="0.6"/>
<line x1="618.6" y1="188.5" x2="618.6" y2="196.0" stroke="#6a6e75" stroke-width="0.9"/>
<rect x="617.3" y="193.8" width="2.5" height="1.2" fill="#559f77" stroke="#3f7d5b" stroke-width="0.6"/>
<line x1="622.7" y1="176.0" x2="622.7" y2="195.0" stroke="#6a6e75" stroke-width="0.9"/>
<rect x="621.4" y="177.2" width="2.5" height="16.9" fill="#559f77" stroke="#3f7d5b" stroke-width="0.6"/>
<line x1="626.8" y1="169.0" x2="626.8" y2="185.2" stroke="#6a6e75" stroke-width="0.9"/>
<rect x="625.6" y="171.2" width="2.5" height="6.4" fill="#559f77" stroke="#3f7d5b" stroke-width="0.6"/>
<line x1="630.9" y1="164.2" x2="630.9" y2="172.0" stroke="#6a6e75" stroke-width="0.9"/>
<rect x="629.7" y="170.2" width="2.5" height="1.0" fill="#559f77" stroke="#3f7d5b" stroke-width="0.6"/>
<line x1="635.0" y1="163.4" x2="635.0" y2="179.6" stroke="#6a6e75" stroke-width="0.9"/>
<rect x="633.8" y="170.2" width="2.5" height="2.1" fill="#dd4c3b" stroke="#a8392c" stroke-width="0.6"/>
<line x1="639.1" y1="165.0" x2="639.1" y2="174.0" stroke="#6a6e75" stroke-width="0.9"/>
<rect x="637.9" y="165.8" width="2.5" height="7.3" fill="#559f77" stroke="#3f7d5b" stroke-width="0.6"/>
<line x1="643.2" y1="147.5" x2="643.2" y2="166.5" stroke="#6a6e75" stroke-width="0.9"/>
<rect x="642.0" y="149.2" width="2.5" height="16.6" fill="#559f77" stroke="#3f7d5b" stroke-width="0.6"/>
<line x1="647.4" y1="143.2" x2="647.4" y2="153.4" stroke="#6a6e75" stroke-width="0.9"/>
<rect x="646.1" y="144.8" width="2.5" height="5.7" fill="#559f77" stroke="#3f7d5b" stroke-width="0.6"/>
<line x1="651.5" y1="129.1" x2="651.5" y2="146.0" stroke="#6a6e75" stroke-width="0.9"/>
<rect x="650.2" y="133.0" width="2.5" height="11.8" fill="#559f77" stroke="#3f7d5b" stroke-width="0.6"/>
<line x1="655.6" y1="129.1" x2="655.6" y2="152.4" stroke="#6a6e75" stroke-width="0.9"/>
<rect x="654.3" y="132.7" width="2.5" height="13.9" fill="#dd4c3b" stroke="#a8392c" stroke-width="0.6"/>
<line x1="659.7" y1="136.0" x2="659.7" y2="151.3" stroke="#6a6e75" stroke-width="0.9"/>
<rect x="658.4" y="137.5" width="2.5" height="9.4" fill="#559f77" stroke="#3f7d5b" stroke-width="0.6"/>
<line x1="663.8" y1="116.5" x2="663.8" y2="142.0" stroke="#6a6e75" stroke-width="0.9"/>
<rect x="662.6" y="118.1" width="2.5" height="23.0" fill="#559f77" stroke="#3f7d5b" stroke-width="0.6"/>
<line x1="667.9" y1="104.4" x2="667.9" y2="122.2" stroke="#6a6e75" stroke-width="0.9"/>
<rect x="666.7" y="112.4" width="2.5" height="6.5" fill="#559f77" stroke="#3f7d5b" stroke-width="0.6"/>
<line x1="672.0" y1="96.7" x2="672.0" y2="113.0" stroke="#6a6e75" stroke-width="0.9"/>
<rect x="670.8" y="99.0" width="2.5" height="13.0" fill="#559f77" stroke="#3f7d5b" stroke-width="0.6"/>
<line x1="676.1" y1="73.6" x2="676.1" y2="99.5" stroke="#6a6e75" stroke-width="0.9"/>
<rect x="674.9" y="74.7" width="2.5" height="24.0" fill="#559f77" stroke="#3f7d5b" stroke-width="0.6"/>
<line x1="680.3" y1="65.0" x2="680.3" y2="102.7" stroke="#6a6e75" stroke-width="0.9"/>
<rect x="679.0" y="74.1" width="2.5" height="15.7" fill="#dd4c3b" stroke="#a8392c" stroke-width="0.6"/>
<line x1="684.4" y1="63.7" x2="684.4" y2="95.5" stroke="#6a6e75" stroke-width="0.9"/>
<rect x="683.1" y="69.2" width="2.5" height="21.1" fill="#559f77" stroke="#3f7d5b" stroke-width="0.6"/>
<line x1="688.5" y1="66.3" x2="688.5" y2="124.6" stroke="#6a6e75" stroke-width="0.9"/>
<rect x="687.2" y="69.6" width="2.5" height="45.6" fill="#dd4c3b" stroke="#a8392c" stroke-width="0.6"/>
<line x1="692.6" y1="109.2" x2="692.6" y2="139.1" stroke="#6a6e75" stroke-width="0.9"/>
<rect x="691.3" y="115.2" width="2.5" height="5.8" fill="#dd4c3b" stroke="#a8392c" stroke-width="0.6"/>
<line x1="696.7" y1="110.0" x2="696.7" y2="126.2" stroke="#6a6e75" stroke-width="0.9"/>
<rect x="695.5" y="115.0" width="2.5" height="6.5" fill="#559f77" stroke="#3f7d5b" stroke-width="0.6"/>
<line x1="700.8" y1="111.6" x2="700.8" y2="127.0" stroke="#6a6e75" stroke-width="0.9"/>
<rect x="699.6" y="115.3" width="2.5" height="2.9" fill="#dd4c3b" stroke="#a8392c" stroke-width="0.6"/>
<line x1="704.9" y1="119.4" x2="704.9" y2="147.7" stroke="#6a6e75" stroke-width="0.9"/>
<rect x="703.7" y="122.5" width="2.5" height="23.7" fill="#dd4c3b" stroke="#a8392c" stroke-width="0.6"/>
<line x1="709.0" y1="137.8" x2="709.0" y2="165.0" stroke="#6a6e75" stroke-width="0.9"/>
<rect x="707.8" y="145.4" width="2.5" height="6.1" fill="#dd4c3b" stroke="#a8392c" stroke-width="0.6"/>
<line x1="713.2" y1="135.5" x2="713.2" y2="161.5" stroke="#6a6e75" stroke-width="0.9"/>
<rect x="711.9" y="151.5" width="2.5" height="5.4" fill="#dd4c3b" stroke="#a8392c" stroke-width="0.6"/>
<line x1="717.3" y1="135.5" x2="717.3" y2="158.4" stroke="#6a6e75" stroke-width="0.9"/>
<rect x="716.0" y="136.2" width="2.5" height="20.7" fill="#559f77" stroke="#3f7d5b" stroke-width="0.6"/>
<line x1="721.4" y1="132.4" x2="721.4" y2="143.9" stroke="#6a6e75" stroke-width="0.9"/>
<rect x="720.1" y="136.2" width="2.5" height="4.6" fill="#dd4c3b" stroke="#a8392c" stroke-width="0.6"/>
<line x1="725.5" y1="136.2" x2="725.5" y2="148.5" stroke="#6a6e75" stroke-width="0.9"/>
<rect x="724.2" y="141.3" width="2.5" height="3.0" fill="#559f77" stroke="#3f7d5b" stroke-width="0.6"/>
<line x1="729.6" y1="141.0" x2="729.6" y2="156.9" stroke="#6a6e75" stroke-width="0.9"/>
<rect x="728.4" y="141.6" width="2.5" height="14.0" fill="#dd4c3b" stroke="#a8392c" stroke-width="0.6"/>
<line x1="733.7" y1="143.9" x2="733.7" y2="156.5" stroke="#6a6e75" stroke-width="0.9"/>
<rect x="732.5" y="145.4" width="2.5" height="10.2" fill="#559f77" stroke="#3f7d5b" stroke-width="0.6"/>
<line x1="737.8" y1="137.8" x2="737.8" y2="147.7" stroke="#6a6e75" stroke-width="0.9"/>
<rect x="736.6" y="143.1" width="2.5" height="2.3" fill="#559f77" stroke="#3f7d5b" stroke-width="0.6"/>
<line x1="741.9" y1="137.8" x2="741.9" y2="147.0" stroke="#6a6e75" stroke-width="0.9"/>
<rect x="740.7" y="141.6" width="2.5" height="4.6" fill="#559f77" stroke="#3f7d5b" stroke-width="0.6"/>
<line x1="746.0" y1="116.5" x2="746.0" y2="142.5" stroke="#6a6e75" stroke-width="0.9"/>
<rect x="744.8" y="117.5" width="2.5" height="24.3" fill="#559f77" stroke="#3f7d5b" stroke-width="0.6"/>
<line x1="750.2" y1="111.2" x2="750.2" y2="120.6" stroke="#6a6e75" stroke-width="0.9"/>
<rect x="748.9" y="115.5" width="2.5" height="1.8" fill="#559f77" stroke="#3f7d5b" stroke-width="0.6"/>
<line x1="754.3" y1="97.2" x2="754.3" y2="120.6" stroke="#6a6e75" stroke-width="0.9"/>
<rect x="753.0" y="101.3" width="2.5" height="14.2" fill="#559f77" stroke="#3f7d5b" stroke-width="0.6"/>
<line x1="758.4" y1="91.1" x2="758.4" y2="111.2" stroke="#6a6e75" stroke-width="0.9"/>
<rect x="757.1" y="101.1" width="2.5" height="4.7" fill="#dd4c3b" stroke="#a8392c" stroke-width="0.6"/>
<line x1="762.5" y1="98.1" x2="762.5" y2="134.1" stroke="#6a6e75" stroke-width="0.9"/>
<rect x="761.2" y="106.2" width="2.5" height="17.4" fill="#dd4c3b" stroke="#a8392c" stroke-width="0.6"/>
<line x1="766.6" y1="119.3" x2="766.6" y2="139.5" stroke="#6a6e75" stroke-width="0.9"/>
<rect x="765.4" y="123.6" width="2.5" height="8.3" fill="#dd4c3b" stroke="#a8392c" stroke-width="0.6"/>
<line x1="770.7" y1="124.7" x2="770.7" y2="141.8" stroke="#6a6e75" stroke-width="0.9"/>
<rect x="769.5" y="127.4" width="2.5" height="4.5" fill="#559f77" stroke="#3f7d5b" stroke-width="0.6"/>
<line x1="774.8" y1="113.9" x2="774.8" y2="128.5" stroke="#6a6e75" stroke-width="0.9"/>
<rect x="773.6" y="125.1" width="2.5" height="2.7" fill="#559f77" stroke="#3f7d5b" stroke-width="0.6"/>
<line x1="778.9" y1="117.7" x2="778.9" y2="132.5" stroke="#6a6e75" stroke-width="0.9"/>
<rect x="777.7" y="124.3" width="2.5" height="1.0" fill="#559f77" stroke="#3f7d5b" stroke-width="0.6"/>
<g font-family="'Liberation Sans', sans-serif">
<text x="153.7" y="242.7" font-size="8.5" fill="#555964" text-anchor="middle" textLength="28.92" lengthAdjust="spacingAndGlyphs">3499.94</text>
<text x="198.9" y="257.8" font-size="8.5" fill="#555964" text-anchor="middle" textLength="28.92" lengthAdjust="spacingAndGlyphs">3438.55</text>
<text x="314.0" y="253.3" font-size="8.5" fill="#555964" text-anchor="middle" textLength="28.92" lengthAdjust="spacingAndGlyphs">3451.17</text>
<text x="425.0" y="257.6" font-size="8.5" fill="#555964" text-anchor="middle" textLength="28.92" lengthAdjust="spacingAndGlyphs">3438.81</text>
<text x="474.2" y="264.0" font-size="8.5" fill="#555964" text-anchor="middle" textLength="28.92" lengthAdjust="spacingAndGlyphs">3409.04</text>
<text x="684.0" y="52.9" font-size="8.5" fill="#555964" text-anchor="middle" textLength="28.92" lengthAdjust="spacingAndGlyphs">4381.30</text>
<text x="112.5" y="412.0" font-size="8.5" fill="#555964" text-anchor="middle" textLength="28.92" lengthAdjust="spacingAndGlyphs">2956.46</text>
<text x="223.7" y="366.4" font-size="8.5" fill="#555964" text-anchor="middle" textLength="28.92" lengthAdjust="spacingAndGlyphs">3120.63</text>
<text x="355.1" y="332.3" font-size="8.5" fill="#555964" text-anchor="middle" textLength="28.92" lengthAdjust="spacingAndGlyphs">3247.34</text>
<text x="445.6" y="326.7" font-size="8.5" fill="#555964" text-anchor="middle" textLength="28.92" lengthAdjust="spacingAndGlyphs">3268.00</text>
<text x="507.4" y="316.3" font-size="8.5" fill="#555964" text-anchor="middle" textLength="28.33" lengthAdjust="spacingAndGlyphs">3311.44</text>
<text x="709.0" y="181.7" font-size="8.5" fill="#555964" text-anchor="middle" textLength="28.92" lengthAdjust="spacingAndGlyphs">3886.45</text>
</g>
</g>
<g font-family="'Liberation Sans', sans-serif" font-size="8">
<text x="5.0" y="12.6" font-size="8.5" fill="#50535e" text-anchor="start" textLength="137.48" lengthAdjust="spacingAndGlyphs">Gold Spot / U.S. Dollar · 1D · FXOpen</text>
<text x="148.0" y="12.6" font-size="8.5" fill="#50535e" text-anchor="start" textLength="37.37" lengthAdjust="spacingAndGlyphs">O<tspan fill="#4f9a73">4,076.33</tspan></text>
<text x="190.5" y="12.6" font-size="8.5" fill="#50535e" text-anchor="start" textLength="36.33" lengthAdjust="spacingAndGlyphs">H<tspan fill="#4f9a73">4,110.16</tspan></text>
<text x="233.7" y="12.6" font-size="8.5" fill="#50535e" text-anchor="start" textLength="35.60" lengthAdjust="spacingAndGlyphs">L<tspan fill="#4f9a73">4,038.87</tspan></text>
<text x="274.2" y="12.6" font-size="8.5" fill="#50535e" text-anchor="start" textLength="36.92" lengthAdjust="spacingAndGlyphs">C<tspan fill="#4f9a73">4,078.06</tspan></text>
<text x="315.5" y="12.6" font-size="8.5" fill="#4f9a73" text-anchor="start" textLength="55.16" lengthAdjust="spacingAndGlyphs">+0.70 (+0.02%)</text>
<text x="5.0" y="24.2" font-size="8.5" fill="#50535e" text-anchor="start" textLength="56.47" lengthAdjust="spacingAndGlyphs">SMA (50, close)</text>
<text x="66.3" y="24.2" font-size="8.5" fill="#f7a22e" text-anchor="start" textLength="31.15" lengthAdjust="spacingAndGlyphs">3,972.38</text>
<text x="5.0" y="35.8" font-size="8.5" fill="#50535e" text-anchor="start" textLength="60.92" lengthAdjust="spacingAndGlyphs">SMA (200, close)</text>
<text x="70.8" y="35.8" font-size="8.5" fill="#3d6ef5" text-anchor="start" textLength="31.15" lengthAdjust="spacingAndGlyphs">3,432.48</text>
<text x="5.0" y="47.3" font-size="8.5" fill="#50535e" text-anchor="start" textLength="56.47" lengthAdjust="spacingAndGlyphs">SMA (10, close)</text>
<text x="66.3" y="47.3" font-size="8.5" fill="#e8557a" text-anchor="start" textLength="31.15" lengthAdjust="spacingAndGlyphs">4,096.17</text>
<text x="5.0" y="58.8" font-size="8.5" fill="#50535e" text-anchor="start" textLength="56.47" lengthAdjust="spacingAndGlyphs">SMA (20, close)</text>
<text x="66.3" y="58.8" font-size="8.5" fill="#b444ee" text-anchor="start" textLength="31.15" lengthAdjust="spacingAndGlyphs">4,042.60</text>
<text x="5.0" y="70.3" font-size="8.5" fill="#50535e" text-anchor="start" textLength="90.43" lengthAdjust="spacingAndGlyphs">Pivots HL (10, 10, 10, 10)</text>
<rect x="540.8" y="39.9" width="109.8" height="18.3" rx="2.5" fill="#fff" stroke="#e3e5ea" stroke-width="0.9"/>
<text x="596.0" y="51.6" font-size="8.5" fill="#2f323c" text-anchor="middle" textLength="96.98" lengthAdjust="spacingAndGlyphs">1,069.86 (32.31%) 106,986</text>
<text x="973.5" y="87.9" font-size="8.5" fill="#43883f" text-anchor="end" textLength="60.48" lengthAdjust="spacingAndGlyphs">0.786 (4,275.41)</text>
<text x="973.5" y="139.2" font-size="8.5" fill="#dc4a52" text-anchor="end" textLength="60.48" lengthAdjust="spacingAndGlyphs">0.618 (4,023.42)</text>
<text x="973.5" y="151.6" font-size="8.5" fill="#43883f" text-anchor="end" textLength="60.48" lengthAdjust="spacingAndGlyphs">0.786 (3,963.20)</text>
<text x="973.5" y="177.2" font-size="8.5" fill="#4ccd4c" text-anchor="end" textLength="51.32" lengthAdjust="spacingAndGlyphs">0.5 (3,846.37)</text>
<text x="973.5" y="204.9" font-size="8.5" fill="#dc4a52" text-anchor="end" textLength="60.48" lengthAdjust="spacingAndGlyphs">0.618 (3,720.13)</text>
<text x="973.5" y="10.8" font-size="8.5" fill="#33c99c" text-anchor="end" textLength="60.48" lengthAdjust="spacingAndGlyphs">1.618 (4,687.09)</text>
<text x="973.5" y="28.6" font-size="8.5" fill="#5656dc" text-anchor="end" textLength="60.48" lengthAdjust="spacingAndGlyphs">3.414 (4,588.69)</text>
<text x="973.5" y="42.2" font-size="8.5" fill="#9b9b9b" text-anchor="end" textLength="60.48" lengthAdjust="spacingAndGlyphs">1.272 (4,515.89)</text>
<rect x="957" y="59.1" width="22.3" height="11.3" fill="#e3eefc"/>
<text x="968.0" y="67.5" font-size="8.5" fill="#2f323c" text-anchor="middle" textLength="16.46" lengthAdjust="spacingAndGlyphs">High</text>
<rect x="958.5" y="416.2" width="20.8" height="10.6" fill="#e3eefc"/>
<text x="968.8" y="424.5" font-size="8.5" fill="#2f323c" text-anchor="middle" textLength="14.68" lengthAdjust="spacingAndGlyphs">Low</text>
</g>
<g clip-path="url(#rp)">
<rect x="0" y="450.4" width="979.3" height="43" fill="#efebf8"/>
<line x1="0.0" y1="450.4" x2="979.3" y2="450.4" stroke="#8d9099" stroke-width="0.9" stroke-dasharray="3.3,4.17" stroke-dashoffset="2.07"/>
<line x1="0.0" y1="471.6" x2="979.3" y2="471.6" stroke="#c0c3ca" stroke-width="0.9" stroke-dasharray="3.3,4.17" stroke-dashoffset="2.07"/>
<line x1="0.0" y1="493.3" x2="979.3" y2="493.3" stroke="#8d9099" stroke-width="0.9" stroke-dasharray="3.3,4.17" stroke-dashoffset="2.07"/>
<polygon points="0.0,463.1 4.9,471.9 14.6,461.1 18.6,461.1 25.4,463.1 30.3,468.0 37.1,461.1 43.0,452.3 47.9,450.4 54.7,446.5 60.5,445.5 64.5,447.5 71.3,455.3 78.1,454.3 85.9,448.4 92.8,442.2 96.7,444.5 100.6,443.6 105.5,449.4 112.8,474.5 116.9,474.2 121.0,460.5 125.1,452.2 129.2,447.9 133.4,452.7 137.5,451.3 141.6,444.6 145.7,447.0 149.8,442.2 153.9,448.9 158.0,459.4 162.1,455.7 166.3,459.1 170.4,457.5 174.5,460.3 178.6,463.4 182.7,468.6 186.8,468.3 190.9,460.7 195.0,454.5 199.2,461.6 203.3,466.9 207.4,465.5 211.5,473.1 215.6,471.9 219.7,477.5 223.8,472.3 227.9,475.2 232.0,472.9 236.2,468.0 240.3,465.9 244.4,468.2 248.5,463.4 252.6,464.7 256.7,469.1 260.8,470.3 264.9,467.4 269.1,470.2 273.2,462.7 277.3,465.4 281.4,463.9 285.5,466.3 289.6,470.5 293.7,469.3 297.8,469.0 302.0,465.9 306.1,463.0 310.2,458.7 314.3,465.3 318.4,464.8 322.5,467.6 326.6,467.3 330.7,467.1 334.8,464.8 339.0,474.2 343.1,472.7 347.2,473.9 351.3,480.4 355.4,476.0 359.5,471.0 363.6,469.0 367.7,472.9 371.9,471.1 376.0,472.1 380.1,476.6 384.2,474.4 388.3,472.7 392.4,468.1 396.5,470.0 400.6,473.2 404.8,469.7 408.9,471.2 413.0,468.7 417.1,461.7 421.2,457.5 425.3,465.8 429.4,468.8 433.5,473.9 437.6,477.5 441.8,474.8 445.9,482.0 450.0,479.3 454.1,468.5 458.2,467.1 462.3,466.0 466.4,467.6 470.5,463.7 474.7,464.2 478.8,473.3 482.9,472.0 487.0,471.0 491.1,475.0 495.2,473.6 499.3,474.9 503.4,477.9 507.6,471.8 511.7,472.9 515.8,466.8 519.9,469.1 524.0,464.3 528.1,463.4 532.2,460.3 536.3,456.0 540.4,452.5 544.6,446.9 548.7,444.6 552.8,447.9 556.9,444.3 561.0,440.8 565.1,443.5 569.2,442.5 573.3,444.3 577.5,443.4 581.6,440.6 585.7,439.7 589.8,449.1 593.9,452.2 598.0,448.0 602.1,443.2 606.2,442.0 610.4,448.0 614.5,446.9 618.6,446.2 622.7,440.8 626.8,439.2 630.9,438.9 635.0,441.3 639.1,439.4 643.2,435.3 647.4,434.4 651.5,432.3 655.6,445.4 659.7,442.9 663.8,438.5 667.9,437.4 672.0,435.1 676.1,431.8 680.3,442.7 684.4,439.1 688.5,461.3 692.6,463.4 696.7,461.8 700.8,463.1 704.9,472.8 709.0,474.4 713.2,476.0 717.3,469.2 721.4,470.8 725.5,471.0 729.6,475.8 733.7,472.1 737.8,471.3 741.9,470.7 746.0,462.4 750.2,461.8 754.3,457.5 758.4,459.7 762.5,467.7 766.6,471.0 770.7,469.3 774.8,468.4 778.9,468.1 778.9,450.4 0.0,450.4" fill="url(#gob)" clip-path="url(#obc)"/>
<line x1="0.0" y1="429.5" x2="979.3" y2="429.5" stroke="#3c3e44" stroke-width="1.5" stroke-dasharray="6.5,8.6" stroke-dashoffset="1.0"/>
<polyline points="0.0,463.1 4.9,471.9 14.6,461.1 18.6,461.1 25.4,463.1 30.3,468.0 37.1,461.1 43.0,452.3 47.9,450.4 54.7,446.5 60.5,445.5 64.5,447.5 71.3,455.3 78.1,454.3 85.9,448.4 92.8,442.2 96.7,444.5 100.6,443.6 105.5,449.4 112.8,474.5 116.9,474.2 121.0,460.5 125.1,452.2 129.2,447.9 133.4,452.7 137.5,451.3 141.6,444.6 145.7,447.0 149.8,442.2 153.9,448.9 158.0,459.4 162.1,455.7 166.3,459.1 170.4,457.5 174.5,460.3 178.6,463.4 182.7,468.6 186.8,468.3 190.9,460.7 195.0,454.5 199.2,461.6 203.3,466.9 207.4,465.5 211.5,473.1 215.6,471.9 219.7,477.5 223.8,472.3 227.9,475.2 232.0,472.9 236.2,468.0 240.3,465.9 244.4,468.2 248.5,463.4 252.6,464.7 256.7,469.1 260.8,470.3 264.9,467.4 269.1,470.2 273.2,462.7 277.3,465.4 281.4,463.9 285.5,466.3 289.6,470.5 293.7,469.3 297.8,469.0 302.0,465.9 306.1,463.0 310.2,458.7 314.3,465.3 318.4,464.8 322.5,467.6 326.6,467.3 330.7,467.1 334.8,464.8 339.0,474.2 343.1,472.7 347.2,473.9 351.3,480.4 355.4,476.0 359.5,471.0 363.6,469.0 367.7,472.9 371.9,471.1 376.0,472.1 380.1,476.6 384.2,474.4 388.3,472.7 392.4,468.1 396.5,470.0 400.6,473.2 404.8,469.7 408.9,471.2 413.0,468.7 417.1,461.7 421.2,457.5 425.3,465.8 429.4,468.8 433.5,473.9 437.6,477.5 441.8,474.8 445.9,482.0 450.0,479.3 454.1,468.5 458.2,467.1 462.3,466.0 466.4,467.6 470.5,463.7 474.7,464.2 478.8,473.3 482.9,472.0 487.0,471.0 491.1,475.0 495.2,473.6 499.3,474.9 503.4,477.9 507.6,471.8 511.7,472.9 515.8,466.8 519.9,469.1 524.0,464.3 528.1,463.4 532.2,460.3 536.3,456.0 540.4,452.5 544.6,446.9 548.7,444.6 552.8,447.9 556.9,444.3 561.0,440.8 565.1,443.5 569.2,442.5 573.3,444.3 577.5,443.4 581.6,440.6 585.7,439.7 589.8,449.1 593.9,452.2 598.0,448.0 602.1,443.2 606.2,442.0 610.4,448.0 614.5,446.9 618.6,446.2 622.7,440.8 626.8,439.2 630.9,438.9 635.0,441.3 639.1,439.4 643.2,435.3 647.4,434.4 651.5,432.3 655.6,445.4 659.7,442.9 663.8,438.5 667.9,437.4 672.0,435.1 676.1,431.8 680.3,442.7 684.4,439.1 688.5,461.3 692.6,463.4 696.7,461.8 700.8,463.1 704.9,472.8 709.0,474.4 713.2,476.0 717.3,469.2 721.4,470.8 725.5,471.0 729.6,475.8 733.7,472.1 737.8,471.3 741.9,470.7 746.0,462.4 750.2,461.8 754.3,457.5 758.4,459.7 762.5,467.7 766.6,471.0 770.7,469.3 774.8,468.4 778.9,468.1" fill="none" stroke="#7e57c2" stroke-width="1.6" stroke-linejoin="round"/>
</g>
<line x1="0.0" y1="427.2" x2="1024.0" y2="427.2" stroke="#e9eaee" stroke-width="0.8"/>
<g font-family="'Liberation Sans', sans-serif" font-size="8">
<text x="5.0" y="440.6" font-size="8.5" fill="#50535e" text-anchor="start" textLength="52.91" lengthAdjust="spacingAndGlyphs">RSI (14, close)</text>
<text x="62.5" y="440.6" font-size="8.5" fill="#7e57c2" text-anchor="start" textLength="20.02" lengthAdjust="spacingAndGlyphs">53.30</text>
</g>
<line x1="0.4" y1="0.0" x2="0.4" y2="516.0" stroke="#f6e1e3" stroke-width="0.8"/>
<line x1="979.3" y1="0.0" x2="979.3" y2="516.0" stroke="#e46464" stroke-width="1"/>
<line x1="0.0" y1="497.6" x2="1024.0" y2="497.6" stroke="#e46464" stroke-width="1"/>
<line x1="0.0" y1="516.2" x2="1022.0" y2="516.2" stroke="#e3e5ea" stroke-width="0.8"/>
<line x1="1023.2" y1="0.0" x2="1023.2" y2="516.2" stroke="#eceef2" stroke-width="0.8"/>
<g font-family="'Liberation Sans', sans-serif" font-size="8">
<rect x="981.8" y="2.2" width="39.7" height="18" rx="3" fill="#fff" stroke="#e6e8ec" stroke-width="0.8"/>
<text x="987.6" y="14.8" font-size="9.6" fill="#50535e" textLength="14.4" lengthAdjust="spacingAndGlyphs">USD</text>
<text x="1001.0" y="44.0" font-size="8.5" fill="#3d4049" text-anchor="middle" textLength="31.15" lengthAdjust="spacingAndGlyphs">4,500.00</text>
<text x="1001.0" y="82.4" font-size="8.5" fill="#3d4049" text-anchor="middle" textLength="31.15" lengthAdjust="spacingAndGlyphs">4,300.00</text>
<text x="1001.0" y="165.0" font-size="8.5" fill="#3d4049" text-anchor="middle" textLength="31.15" lengthAdjust="spacingAndGlyphs">3,900.00</text>
<text x="1001.0" y="186.9" font-size="8.5" fill="#3d4049" text-anchor="middle" textLength="31.15" lengthAdjust="spacingAndGlyphs">3,800.00</text>
<text x="1001.0" y="209.4" font-size="8.5" fill="#3d4049" text-anchor="middle" textLength="31.15" lengthAdjust="spacingAndGlyphs">3,700.00</text>
<text x="1001.0" y="232.6" font-size="8.5" fill="#3d4049" text-anchor="middle" textLength="31.15" lengthAdjust="spacingAndGlyphs">3,600.00</text>
<text x="1001.0" y="261.2" font-size="8.5" fill="#3d4049" text-anchor="middle" textLength="31.15" lengthAdjust="spacingAndGlyphs">3,480.00</text>
<text x="1001.0" y="290.9" font-size="8.5" fill="#3d4049" text-anchor="middle" textLength="31.15" lengthAdjust="spacingAndGlyphs">3,360.00</text>
<text x="1001.0" y="316.4" font-size="8.5" fill="#3d4049" text-anchor="middle" textLength="31.15" lengthAdjust="spacingAndGlyphs">3,260.00</text>
<text x="1001.0" y="337.4" font-size="8.5" fill="#3d4049" text-anchor="middle" textLength="31.15" lengthAdjust="spacingAndGlyphs">3,180.00</text>
<text x="1001.0" y="358.9" font-size="8.5" fill="#3d4049" text-anchor="middle" textLength="31.15" lengthAdjust="spacingAndGlyphs">3,100.00</text>
<text x="1001.0" y="381.0" font-size="8.5" fill="#3d4049" text-anchor="middle" textLength="31.15" lengthAdjust="spacingAndGlyphs">3,020.00</text>
<text x="1001.0" y="403.7" font-size="8.5" fill="#3d4049" text-anchor="middle" textLength="31.15" lengthAdjust="spacingAndGlyphs">2,940.00</text>
<text x="994.5" y="442.5" font-size="8.5" fill="#2f323c" text-anchor="middle" textLength="20.02" lengthAdjust="spacingAndGlyphs">80.00</text>
<text x="994.5" y="464.0" font-size="8.5" fill="#2f323c" text-anchor="middle" textLength="20.02" lengthAdjust="spacingAndGlyphs">60.00</text>
<text x="994.5" y="485.5" font-size="8.5" fill="#2f323c" text-anchor="middle" textLength="20.02" lengthAdjust="spacingAndGlyphs">40.00</text>
<rect x="979.8" y="59.1" width="41.0" height="11.3" rx="1" fill="#e3eefc"/>
<text x="1000.8" y="67.7" font-size="8.5" fill="#2f323c" text-anchor="middle" textLength="31.15" lengthAdjust="spacingAndGlyphs">4,381.30</text>
<rect x="979.8" y="107.9" width="41.0" height="11.3" rx="1" fill="#f05c8a"/>
<text x="1000.8" y="116.5" font-size="8.5" fill="#fff" text-anchor="middle" textLength="31.15" lengthAdjust="spacingAndGlyphs">4,096.17</text>
<rect x="979.8" y="119.2" width="41.0" height="20.9" rx="1" fill="#5c9a76"/>
<text x="1000.8" y="127.3" font-size="8.5" fill="#fff" text-anchor="middle" textLength="31.15" lengthAdjust="spacingAndGlyphs">4,078.06</text>
<text x="1000.8" y="137.8" font-size="8.5" fill="#fff" text-anchor="middle" textLength="31.15" lengthAdjust="spacingAndGlyphs">01:13:41</text>
<rect x="979.8" y="140.1" width="41.0" height="11.1" rx="1" fill="#a530f2"/>
<text x="1000.8" y="148.5" font-size="8.5" fill="#fff" text-anchor="middle" textLength="31.15" lengthAdjust="spacingAndGlyphs">4,042.60</text>
<rect x="979.8" y="152.0" width="41.0" height="11.3" rx="1" fill="#ff9800"/>
<text x="1000.8" y="160.6" font-size="8.5" fill="#131722" text-anchor="middle" textLength="31.15" lengthAdjust="spacingAndGlyphs">3,972.38</text>
<rect x="979.8" y="248.3" width="41.0" height="10.8" rx="1" fill="#000"/>
<text x="1000.8" y="256.6" font-size="8.5" fill="#fff" text-anchor="middle" textLength="31.15" lengthAdjust="spacingAndGlyphs">3,499.94</text>
<rect x="979.8" y="264.5" width="41.0" height="11.1" rx="1" fill="#2962ff"/>
<text x="1000.8" y="272.9" font-size="8.5" fill="#fff" text-anchor="middle" textLength="31.15" lengthAdjust="spacingAndGlyphs">3,432.48</text>
<rect x="979.8" y="416.2" width="41.0" height="10.6" rx="1" fill="#e3eefc"/>
<text x="1000.8" y="424.4" font-size="8.5" fill="#2f323c" text-anchor="middle" textLength="31.15" lengthAdjust="spacingAndGlyphs">2,832.59</text>
<rect x="979.8" y="428.0" width="29.1" height="11.1" rx="1" fill="#000"/>
<text x="994.8" y="436.4" font-size="8.5" fill="#fff" text-anchor="middle" textLength="20.02" lengthAdjust="spacingAndGlyphs">88.78</text>
<rect x="979.8" y="462.1" width="29.2" height="11.6" rx="1" fill="#673ab7"/>
<text x="994.9" y="470.8" font-size="8.5" fill="#fff" text-anchor="middle" textLength="20.02" lengthAdjust="spacingAndGlyphs">53.30</text>
<text x="10.0" y="509.9" font-size="8.5" fill="#50535e" text-anchor="middle" textLength="13.78" lengthAdjust="spacingAndGlyphs">Mar</text>
<text x="96.0" y="509.9" font-size="8.5" fill="#50535e" text-anchor="middle" textLength="12.45" lengthAdjust="spacingAndGlyphs">Apr</text>
<text x="183.0" y="509.9" font-size="8.5" fill="#50535e" text-anchor="middle" textLength="15.11" lengthAdjust="spacingAndGlyphs">May</text>
<text x="273.0" y="509.9" font-size="8.5" fill="#50535e" text-anchor="middle" textLength="12.90" lengthAdjust="spacingAndGlyphs">Jun</text>
<text x="359.3" y="509.9" font-size="8.5" fill="#50535e" text-anchor="middle" textLength="10.23" lengthAdjust="spacingAndGlyphs">Jul</text>
<text x="454.3" y="509.9" font-size="8.5" fill="#50535e" text-anchor="middle" textLength="14.24" lengthAdjust="spacingAndGlyphs">Aug</text>
<text x="540.3" y="509.9" font-size="8.5" fill="#50535e" text-anchor="middle" textLength="14.24" lengthAdjust="spacingAndGlyphs">Sep</text>
<text x="630.8" y="509.9" font-size="8.5" fill="#50535e" text-anchor="middle" textLength="12.45" lengthAdjust="spacingAndGlyphs">Oct</text>
<text x="725.3" y="509.9" font-size="8.5" fill="#50535e" text-anchor="middle" textLength="14.23" lengthAdjust="spacingAndGlyphs">Nov</text>
<text x="807.5" y="509.9" font-size="8.5" fill="#50535e" text-anchor="middle" textLength="14.23" lengthAdjust="spacingAndGlyphs">Dec</text>
<text x="902.3" y="509.9" font-size="8.5" fill="#50535e" text-anchor="middle" font-weight="bold" textLength="17.80" lengthAdjust="spacingAndGlyphs">2026</text>
</g>
<g fill="#131722">
<path d="M1.2,531.4 H9.2 V541.6 H5.2 V535.3 H1.2 Z"/>
<circle cx="12.7" cy="533.5" r="1.8"/>
<path d="M17.0,531.4 H21.4 L17.6,541.6 H13.2 Z"/>
</g>
<text x="27" y="541.4" font-family="'Liberation Sans', sans-serif" font-size="14" font-weight="bold" fill="#131722">TradingView</text>
</svg>
</body></html>
